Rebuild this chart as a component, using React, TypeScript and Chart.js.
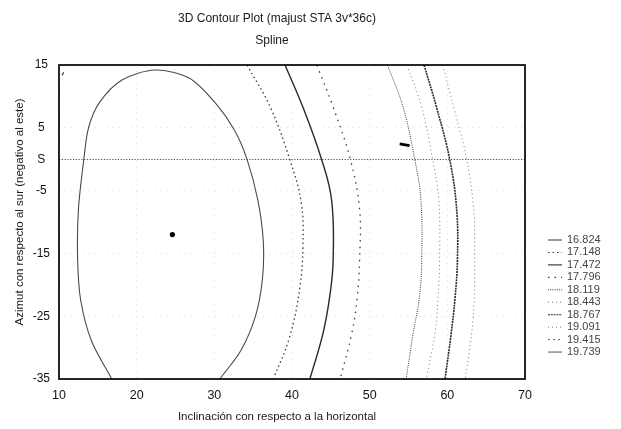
import { useEffect, useRef } from "react";
import { Chart, registerables } from "chart.js";

Chart.register(...registerables);

// ---- Text ----
const titleText = "3D Contour Plot (majust STA 3v*36c)";
const subtitleText = "Spline";
const xAxisTitle = "Inclinación con respecto a la horizontal";
const yAxisTitle = "Azimut con respecto al sur (negativo al este)";

// ---- Axes ----
const xMin = 10;
const xMax = 70;
const xStep = 10;
const yMin = -35;
const yMax = 15;
const yTickValues = [15, 5, 0, -5, -15, -25, -35];
const yTickLabels = ["15", "5", "S", "-5", "-15", "-25", "-35"];

// ---- Contour levels (legend) ----
const levels = ["16.824", "17.148", "17.472", "17.796", "18.119", "18.443", "18.767", "19.091", "19.415", "19.739"];

// ---- Contour lines (x = inclinación, y = azimut) ----
const c16824X = [16.8, 14.2, 12.8, 12.4, 12.5, 13.2, 13.8, 15.2, 18.1, 22.4, 26.8, 30.1, 32.6, 34.2, 35.6, 36.3, 36.2, 35.3, 33.4, 30.7];
const c16824Y = [-35, -29, -22.5, -16, -8, 0, 5, 9, 12.6, 14.2, 12.9, 9, 4.6, 0, -6.5, -13, -19, -25, -30.5, -35];

const c17148X = [34.2, 37.2, 39.7, 41.2, 41.4, 41.0, 39.7, 37.6];
const c17148Y = [15, 8.3, 0, -7, -14, -20.5, -28.3, -35];

const c17472X = [39.1, 41.4, 43.8, 45.1, 45.3, 44.9, 44.0, 42.3];
const c17472Y = [15, 8.3, 0, -6.5, -16, -21.5, -27.7, -35];

const c17796X = [43.2, 45.3, 47.5, 48.7, 48.7, 48.4, 47.7, 46.2];
const c17796Y = [15, 8.3, 0, -8, -16, -22, -27.7, -35];

const c18119X = [52.3, 54.3, 55.8, 56.6, 56.7, 56.4, 55.6, 54.7];
const c18119Y = [15, 8.3, 0, -6.5, -16, -22, -27.7, -35];

const c18443X = [54.8, 56.7, 58.1, 58.9, 59.0, 58.8, 58.4, 57.3];
const c18443Y = [15, 8.3, 0, -6.5, -16, -22, -27.7, -35];

const c18767X = [57.0, 58.6, 60.3, 61.2, 61.3, 61.0, 60.5, 59.7];
const c18767Y = [15, 8.3, 0, -8, -16, -22, -27.7, -35];

const c19091X = [59.4, 61.0, 62.5, 63.4, 63.5, 63.5, 63.3, 62.8, 62.3];
const c19091Y = [15, 7.4, 0, -8, -12, -20, -25.6, -30.9, -35];

const c19415X: number[] = [];
const c19415Y: number[] = [];
const c19739X: number[] = [];
const c19739Y: number[] = [];

const contourXs = [c16824X, c17148X, c17472X, c17796X, c18119X, c18443X, c18767X, c19091X, c19415X, c19739X];
const contourYs = [c16824Y, c17148Y, c17472Y, c17796Y, c18119Y, c18443Y, c18767Y, c19091Y, c19415Y, c19739Y];

// ---- Marks ----
const minimumX = [24.6];
const minimumY = [-12];
const dashMarkX = [54.5];
const dashMarkY = [2.3];
const cornerMarkX = [10.5];
const cornerMarkY = [13.6];

// ---- Styles (not data) ----
const contourStyles = [
  { color: "#4a4a4a", width: 1.1, dash: [] as number[], tension: 0.3 },
  { color: "#3a3a3a", width: 1.3, dash: [1.5, 3], tension: 0.4 },
  { color: "#2a2a2a", width: 1.4, dash: [] as number[], tension: 0.4 },
  { color: "#3a3a3a", width: 1.3, dash: [1.5, 5], tension: 0.4 },
  { color: "#3a3a3a", width: 1.0, dash: [1, 1.2], tension: 0.4 },
  { color: "#777777", width: 1.0, dash: [1, 3], tension: 0.4 },
  { color: "#2a2a2a", width: 1.6, dash: [2, 0.8], tension: 0.4 },
  { color: "#777777", width: 1.0, dash: [1, 3], tension: 0.4 },
  { color: "#666666", width: 1.0, dash: [2, 3], tension: 0.4 },
  { color: "#555555", width: 1.0, dash: [] as number[], tension: 0.4 },
];

const FONT = '"Liberation Sans", Arial, sans-serif';

const toPoints = (xs: number[], ys: number[]) => xs.map((x, i) => ({ x, y: ys[i] }));

const decorPlugin = {
  id: "decor",
  afterDraw(chart: any) {
    const { ctx, chartArea: a } = chart;
    ctx.save();
    // frame
    ctx.setLineDash([]);
    ctx.strokeStyle = "#111";
    ctx.lineWidth = 1.8;
    ctx.strokeRect(a.left, a.top, a.right - a.left, a.bottom - a.top);

    // titles
    const cx = (a.left + a.right) / 2 - 15;
    ctx.fillStyle = "#1a1a1a";
    ctx.textAlign = "center";
    ctx.textBaseline = "middle";
    ctx.font = `12px ${FONT}`;
    ctx.fillText(titleText, cx, 19);
    ctx.fillText(subtitleText, cx - 5, 41);
    ctx.font = `11.5px ${FONT}`;
    ctx.fillText(xAxisTitle, cx, a.bottom + 38);
    ctx.save();
    ctx.translate(20, (a.top + a.bottom) / 2 - 10);
    ctx.rotate(-Math.PI / 2);
    ctx.fillText(yAxisTitle, 0, 0);
    ctx.restore();

    // legend
    const lx = a.right + 23;
    const ly0 = 240;
    const dy = 12.45;
    ctx.font = `11px ${FONT}`;
    ctx.textAlign = "left";
    levels.forEach((lab, i) => {
      const st = contourStyles[i];
      const y = ly0 + i * dy;
      ctx.beginPath();
      ctx.setLineDash(st.dash);
      ctx.strokeStyle = st.color;
      ctx.lineWidth = Math.min(st.width, 1.1);
      ctx.moveTo(lx, y);
      ctx.lineTo(lx + 14, y);
      ctx.stroke();
      ctx.setLineDash([]);
      ctx.fillStyle = "#444";
      ctx.fillText(lab, lx + 19, y);
    });
    ctx.restore();
  },
};

export default function App() {
  const ref = useRef<HTMLCanvasElement | null>(null);

  useEffect(() => {
    document.body.style.margin = "0";
    if (!ref.current) return;

    const contourSets = levels.map((lab, i) => ({
      type: "scatter" as const,
      label: lab,
      data: toPoints(contourXs[i], contourYs[i]),
      showLine: true,
      borderColor: contourStyles[i].color,
      borderWidth: contourStyles[i].width,
      borderDash: contourStyles[i].dash,
      tension: contourStyles[i].tension,
      pointRadius: 0,
      fill: false,
    }));

    const chart = new Chart(ref.current, {
      type: "scatter",
      data: {
        datasets: [
          ...contourSets,
          {
            label: "min",
            data: toPoints(minimumX, minimumY),
            pointRadius: 2.6,
            pointBackgroundColor: "#000",
            pointBorderColor: "#000",
            pointBorderWidth: 0,
          },
          {
            label: "mark",
            data: toPoints(dashMarkX, dashMarkY),
            pointStyle: "line",
            pointRadius: 5,
            pointRotation: 10,
            pointBorderColor: "#000",
            pointBorderWidth: 2.6,
          },
          {
            label: "corner",
            data: toPoints(cornerMarkX, cornerMarkY),
            pointStyle: "line",
            pointRadius: 1.8,
            pointRotation: -60,
            pointBorderColor: "#333",
            pointBorderWidth: 1.2,
          },
        ] as any,
      },
      options: {
        responsive: false,
        animation: false,
        events: [],
        layout: { padding: { left: 0, top: 65, right: 96, bottom: 0 } },
        plugins: {
          legend: { display: false },
          tooltip: { enabled: false },
          title: { display: false },
        },
        scales: {
          x: {
            type: "linear",
            min: xMin,
            max: xMax,
            afterFit: (s: any) => {
              s.height = 50;
            },
            ticks: {
              stepSize: xStep,
              color: "#111",
              font: { family: FONT, size: 12.5 },
              padding: 9,
              maxRotation: 0,
            },
            grid: {
              drawTicks: false,
              color: "rgba(0,0,0,0.13)",
              lineWidth: 1,
            },
            border: { display: false, dash: [1, 5] },
          },
          y: {
            type: "linear",
            min: yMin,
            max: yMax,
            afterFit: (s: any) => {
              s.width = 59;
            },
            afterBuildTicks: (s: any) => {
              s.ticks = yTickValues.map((v) => ({ value: v }));
            },
            ticks: {
              color: "#111",
              font: { family: FONT, size: 12 },
              padding: 9,
              crossAlign: "center",
              callback: (v: any) => {
                const idx = yTickValues.indexOf(Number(v));
                return idx >= 0 ? yTickLabels[idx] : "";
              },
            },
            grid: {
              drawTicks: false,
              color: (c: any) => (c.tick && c.tick.value === 0 ? "rgba(0,0,0,0.7)" : "rgba(0,0,0,0.13)"),
              lineWidth: (c: any) => (c.tick && c.tick.value === 0 ? 1.1 : 1),
            },
            border: {
              display: false,
              dash: (c: any) => (c.tick && c.tick.value === 0 ? [1.2, 1.6] : [1, 5]),
            },
          },
        },
      },
      plugins: [decorPlugin],
    } as any);

    return () => chart.destroy();
  }, []);

  return (
    <div style={{ width: 621, height: 429, overflow: "hidden", background: "#fff" }}>
      <canvas ref={ref} width={621} height={429} style={{ display: "block" }} />
    </div>
  );
}
